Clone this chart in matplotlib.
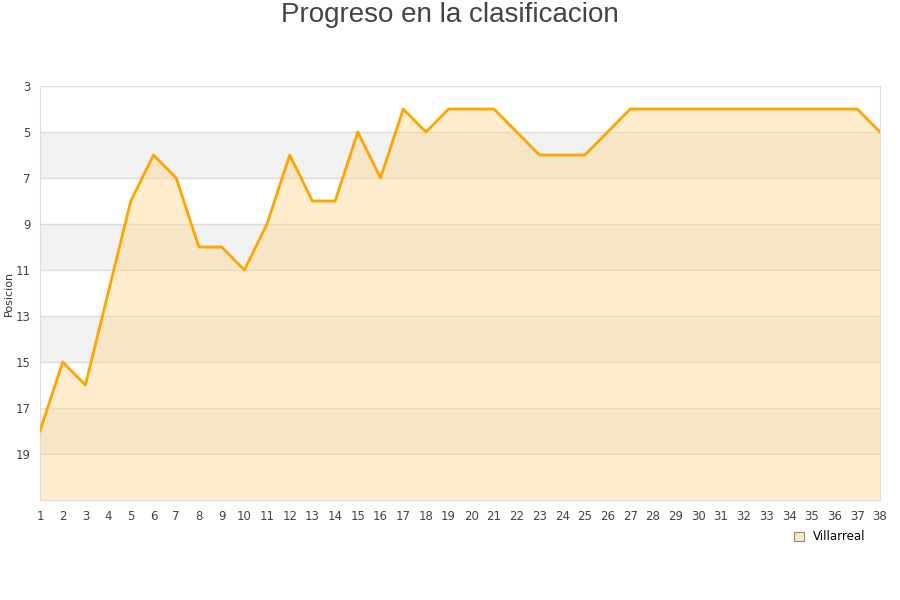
import matplotlib
matplotlib.use("Agg")
import matplotlib.pyplot as plt
from matplotlib.patches import Rectangle

jornadas = list(range(1, 39))
posiciones = [18, 15, 16, 12, 8, 6, 7, 10, 10, 11, 9, 6, 8, 8, 5, 7, 4, 5, 4, 4,
              4, 5, 6, 6, 6, 5, 4, 4, 4, 4, 4, 4, 4, 4, 4, 4, 4, 5]
equipo = "Villarreal"
yticks = [3, 5, 7, 9, 11, 13, 15, 17, 19]

fig = plt.figure(figsize=(9, 6), dpi=100)
ax = fig.add_axes([40/900, 1-500/600, 840/900, 414/600])

ymin, ymax = 3, 21
for lo in [5, 9, 13, 17]:
    ax.axhspan(lo, lo + 2, color="#f2f2f2", zorder=0, lw=0)
for t in yticks:
    ax.axhline(t, color="#dddddd", lw=1, zorder=1)

ax.fill_between(jornadas, posiciones, ymax, color="#ffd890", alpha=0.45, lw=0, zorder=2)
ax.plot(jornadas, posiciones, color="#ffa500", lw=2, zorder=3)

ax.set_xlim(1, 38)
ax.set_ylim(ymax, ymin)
ax.set_xticks(jornadas)
ax.set_yticks(yticks)
ax.tick_params(axis="both", length=0, labelsize=8.5, colors="#444444", pad=7)
ax.tick_params(axis="y", pad=6.5)
for s in ax.spines.values():
    s.set_color("#dddddd")

fig.text(9/900, 1-293/600, "Posicion", rotation=90, ha="center", va="center",
         fontsize=8, color="#333333")

fig.text(0.5, 1-15/600, "Progreso en la clasificacion", ha="center", va="center",
         fontsize=20, color="#444444", family="Liberation Sans")

handle = Rectangle((0, 0), 1, 1, facecolor="#fde8c0", edgecolor="#888888", lw=0.8)
leg = fig.legend([handle], [equipo], loc="center", bbox_to_anchor=(830/900, 1-537/600),
                 frameon=False, fontsize=8.5, handlelength=0.8, handleheight=0.8,
                 handletextpad=0.8)

fig.savefig("out.png", dpi=100, facecolor="white")
